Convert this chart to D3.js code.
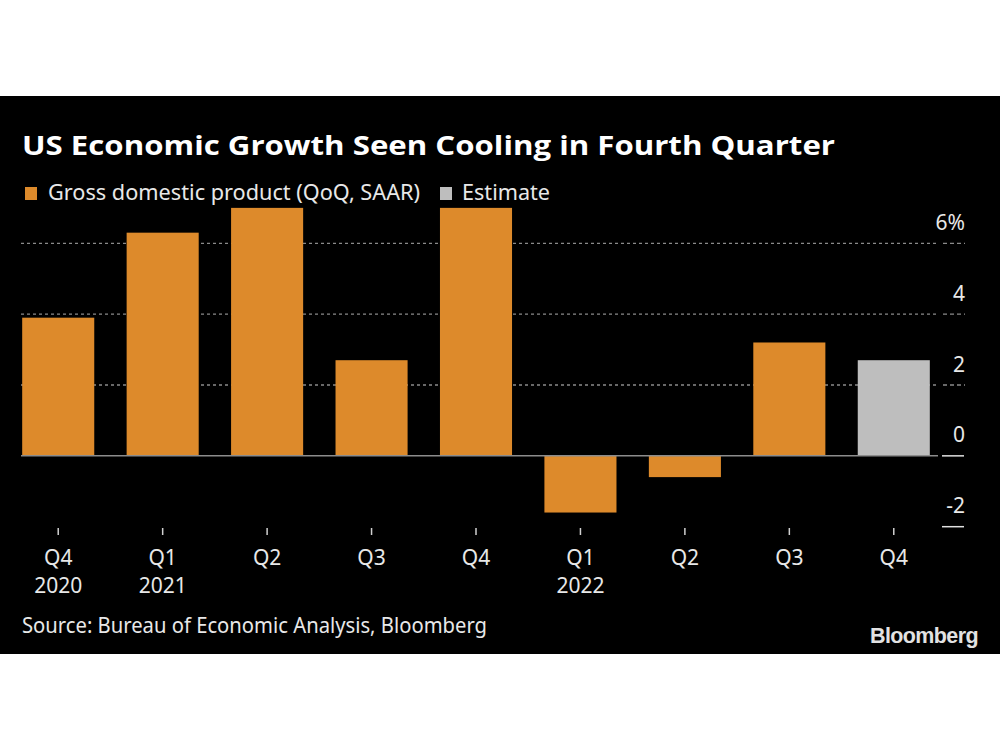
<!DOCTYPE html>
<html>
<head>
<meta charset="utf-8">
<script src="https://cdn.jsdelivr.net/npm/d3@7"></script>
<style>
  html, body { margin: 0; padding: 0; background: #ffffff; }
  svg { display: block; }
</style>
</head>
<body>
<script>
// ---- Data ----
const quarters = ["Q4", "Q1", "Q2", "Q3", "Q4", "Q1", "Q2", "Q3", "Q4"];
const years = ["2020", "2021", "", "", "", "2022", "", "", ""];
const gdpValues = [3.9, 6.3, 7.0, 2.7, 7.0, -1.6, -0.6, 3.2, 2.7];
const isEstimate = [false, false, false, false, false, false, false, false, true];
const yTickValues = [-2, 0, 2, 4, 6];
const yTickLabels = ["-2", "0", "2", "4", "6%"];
const titleText = "US Economic Growth Seen Cooling in Fourth Quarter";
const legendLabels = ["Gross domestic product (QoQ, SAAR)", "Estimate"];
const sourceText = "Source: Bureau of Economic Analysis, Bloomberg";

const W = 1000, H = 750;
const orange = "#DD8A2B", grey = "#BEBEBE", textCol = "#E8E8E8";
const bodyFont = "'Noto Sans', 'DejaVu Sans', sans-serif";
const fs = 21;

const svg = d3.select("body").append("svg").attr("width", W).attr("height", H);
svg.append("rect").attr("x", 0).attr("y", 0).attr("width", W).attr("height", H).attr("fill", "#fff");
svg.append("rect").attr("x", 0).attr("y", 96).attr("width", W).attr("height", 558).attr("fill", "#000");

// Title
svg.append("text").attr("x", 22).attr("y", 155)
  .attr("font-family", "'Open Sans', 'Noto Sans', sans-serif").attr("font-weight", 700)
  .attr("font-size", 27).attr("fill", "#fff")
  .attr("textLength", 813).attr("lengthAdjust", "spacingAndGlyphs")
  .text(titleText);

// Legend
const leg = svg.append("g");
leg.append("rect").attr("x", 25).attr("y", 187).attr("width", 12).attr("height", 13).attr("fill", orange);
leg.append("text").attr("x", 48).attr("y", 200).attr("font-family", bodyFont).attr("font-size", fs)
  .attr("fill", textCol).attr("textLength", 372).attr("lengthAdjust", "spacingAndGlyphs").text(legendLabels[0]);
leg.append("rect").attr("x", 440).attr("y", 187).attr("width", 12).attr("height", 13).attr("fill", grey);
leg.append("text").attr("x", 462).attr("y", 200).attr("font-family", bodyFont).attr("font-size", fs)
  .attr("fill", textCol).attr("textLength", 88).attr("lengthAdjust", "spacingAndGlyphs").text(legendLabels[1]);

// Scales
const x = d3.scaleBand().domain(d3.range(quarters.length)).range([6, 946]).paddingInner(0.31).paddingOuter(0.155);
const y = d3.scaleLinear().domain([-2, 6]).range([526.7, 243.3]);

// Gridlines (dotted) for positive ticks
const gridTicks = yTickValues.filter(v => v > 0);
svg.append("g").selectAll("line").data(gridTicks).join("line")
  .attr("x1", 21).attr("x2", 938).attr("y1", d => y(d)).attr("y2", d => y(d))
  .attr("stroke", "#8a8a8a").attr("stroke-width", 1.3).attr("stroke-dasharray", "3,3");
svg.append("g").selectAll("line").data(gridTicks).join("line")
  .attr("x1", 943).attr("x2", 965).attr("y1", d => y(d)).attr("y2", d => y(d))
  .attr("stroke", "#8a8a8a").attr("stroke-width", 1.3).attr("stroke-dasharray", "4,3");

// Bars
svg.append("g").selectAll("rect").data(gdpValues).join("rect")
  .attr("x", (d, i) => x(i))
  .attr("width", x.bandwidth())
  .attr("y", d => y(Math.max(0, d)))
  .attr("height", d => Math.abs(y(d) - y(0)))
  .attr("fill", (d, i) => isEstimate[i] ? grey : orange);

// Zero baseline
svg.append("line").attr("x1", 21).attr("x2", 938).attr("y1", y(0)).attr("y2", y(0))
  .attr("stroke", "#8c8c8c").attr("stroke-width", 1.5);

// Y axis (right) using d3 axis
const yAxis = d3.axisRight(y).tickValues(yTickValues).tickSize(0)
  .tickFormat((d, i) => yTickLabels[i]);
const yg = svg.append("g").attr("transform", "translate(965,0)").call(yAxis);
yg.select(".domain").remove();
yg.selectAll("text")
  .attr("x", 0).attr("dy", 0).attr("text-anchor", "end")
  .attr("transform", "translate(0,-14)")
  .attr("font-family", bodyFont).attr("font-size", fs).attr("fill", textCol);
// solid ticks at 0 and -2
svg.append("g").selectAll("line").data(yTickValues.filter(v => v <= 0)).join("line")
  .attr("x1", 942).attr("x2", 964).attr("y1", d => y(d)).attr("y2", d => y(d))
  .attr("stroke", "#e0e0e0").attr("stroke-width", 1.5);

// X axis
const xAxis = d3.axisBottom(x).tickSize(7).tickSizeOuter(0).tickFormat(i => quarters[i]);
const xg = svg.append("g").attr("transform", "translate(0,528)").call(xAxis);
xg.select(".domain").remove();
xg.selectAll(".tick line").attr("stroke", "#d0d0d0").attr("stroke-width", 1.5);
xg.selectAll(".tick text").remove();
xg.selectAll(".tick").each(function(i) {
  const t = d3.select(this);
  t.append("text").attr("x", 0).attr("y", 37).attr("text-anchor", "middle")
    .attr("font-family", bodyFont).attr("font-size", fs).attr("fill", textCol).text(quarters[i]);
  if (years[i]) {
    t.append("text").attr("x", 0).attr("y", 65).attr("text-anchor", "middle")
      .attr("font-family", bodyFont).attr("font-size", fs).attr("fill", textCol).text(years[i]);
  }
});

// Source
svg.append("text").attr("x", 22).attr("y", 633).attr("font-family", bodyFont).attr("font-size", fs)
  .attr("fill", textCol).attr("textLength", 465).attr("lengthAdjust", "spacingAndGlyphs").text(sourceText);

// Bloomberg logo
svg.append("text").attr("x", 870).attr("y", 643)
  .attr("font-family", "'Liberation Sans', Arial, sans-serif").attr("font-weight", 700)
  .attr("font-size", 22).attr("letter-spacing", -0.6).attr("fill", "#e2e2e2")
  .attr("textLength", 108).attr("lengthAdjust", "spacingAndGlyphs").text("Bloomberg");
</script>
</body>
</html>
